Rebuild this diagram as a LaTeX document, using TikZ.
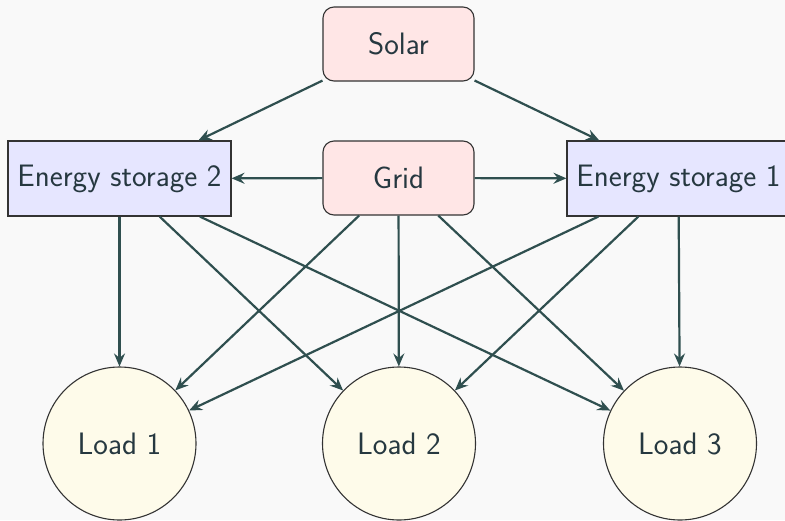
\documentclass[tikz,border=0pt]{standalone}
\usetikzlibrary{arrows.meta}
\definecolor{bgc}{HTML}{F9F9F9}
\definecolor{pinkf}{HTML}{FFE6E6}
\definecolor{bluef}{HTML}{E6E6FF}
\definecolor{yelf}{HTML}{FEFBEA}
\definecolor{edge}{HTML}{2F4F4F}
\definecolor{txt}{HTML}{263840}
\definecolor{bord}{HTML}{333333}
\tikzset{
  base/.style={draw=bord, line width=1.1pt, text=txt, font=\sffamily\fontsize{31}{36}\selectfont, inner sep=0pt},
  srcbox/.style={base, fill=pinkf, rounded corners=11pt, minimum width=151pt, minimum height=74pt},
  storebox/.style={base, fill=bluef, minimum width=223pt, minimum height=75pt},
  loadc/.style={base, fill=yelf, circle, minimum size=153pt},
  flow/.style={draw=edge, line width=2.2pt, -{Stealth[length=13pt,width=11pt,inset=4.5pt]}}
}
\begin{document}
\begin{tikzpicture}[x=1pt,y=-1pt]
\useasboundingbox (0,0) rectangle (785,520);
\fill[bgc] (0,0) rectangle (785,520);
\node[srcbox] (solar) at (398.5,44) {Solar};
\node[srcbox] (grid) at (398.5,178) {Grid};
\node[storebox] (es2) at (119.5,178.5) {Energy storage 2};
\node[storebox] (es1) at (678.5,178.5) {Energy storage 1};
\node[loadc] (l1) at (119.5,443.5) {Load 1};
\node[loadc] (l2) at (399,443.5) {Load 2};
\node[loadc] (l3) at (680,443.5) {Load 3};
\draw[flow] (solar) -- (es2);
\draw[flow] (solar) -- (es1);
\draw[flow] (grid) -- (es2);
\draw[flow] (grid) -- (es1);
\draw[flow] (es2) -- (l1);
\draw[flow] (es2) -- (l2);
\draw[flow] (es2) -- (l3);
\draw[flow] (grid) -- (l1);
\draw[flow] (grid) -- (l2);
\draw[flow] (grid) -- (l3);
\draw[flow] (es1) -- (l1);
\draw[flow] (es1) -- (l2);
\draw[flow] (es1) -- (l3);
\end{tikzpicture}
\end{document}
